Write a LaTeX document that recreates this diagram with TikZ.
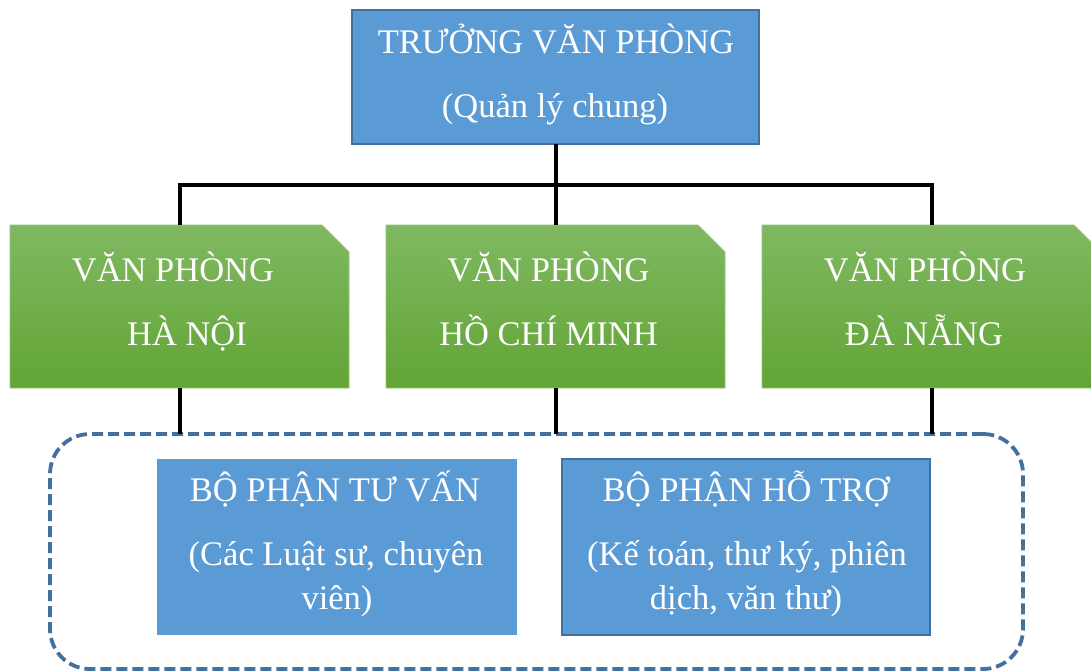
\documentclass[tikz,border=0pt]{standalone}
\usepackage{fontspec}
\setmainfont{Liberation Serif}
\definecolor{bfill}{HTML}{5B9BD5}
\definecolor{bline}{HTML}{41719C}
\definecolor{gtop}{HTML}{80B862}
\definecolor{gbot}{HTML}{62A535}
\definecolor{gedge}{HTML}{94C978}
\begin{document}
\begin{tikzpicture}[x=1pt,y=-1pt,
  frame/.style={rectangle, inner sep=0pt, outer sep=0pt},
  bluebox/.style={frame, fill=bfill, draw=bline, line width=1.5pt},
  greenarea/.style={frame},
  greenfill/.style={top color=gtop, bottom color=gbot, draw=gedge, line width=0.8pt},
  groupbox/.style={frame, draw=bline, line width=3.8pt, dash pattern=on 11pt off 5pt, rounded corners=40pt},
  conn/.style={draw=black, line width=4pt},
  lbl/.style={anchor=base, text=white, inner sep=0pt, font=\fontsize{34.5}{40}\selectfont}]
\clip (0,0) rectangle (1091,671);
\fill[white] (0,0) rectangle (1091,671);

% top box
\node[bluebox, minimum width=407pt, minimum height=134pt] (top) at (555.5,77) {};
\node[lbl] (topA) at (556,54) {TRƯỞNG VĂN PHÒNG};
\node[lbl] (topB) at (555,118) {(Quản lý chung)};

% green offices
\node[greenarea, minimum width=339pt, minimum height=163pt] (g1) at (179.5,306.5) {};
\node[greenarea, minimum width=339pt, minimum height=163pt] (g2) at (555.5,306.5) {};
\node[greenarea, minimum width=339pt, minimum height=163pt] (g3) at (931.5,306.5) {};
\path[greenfill] (g1.north west) -- ++(312,0) -- ++(27,27) -- (g1.south east) -- (g1.south west) -- cycle;
\path[greenfill] (g2.north west) -- ++(312,0) -- ++(27,27) -- (g2.south east) -- (g2.south west) -- cycle;
\path[greenfill] (g3.north west) -- ++(312,0) -- ++(27,27) -- (g3.south east) -- (g3.south west) -- cycle;

\node[lbl] (g1A) at (173,281) {VĂN PHÒNG};
\node[lbl] (g1B) at (187,345) {HÀ NỘI};
\node[lbl] (g2A) at (548.5,281) {VĂN PHÒNG};
\node[lbl] (g2B) at (548.5,345) {HỒ CHÍ MINH};
\node[lbl] (g3A) at (925,281) {VĂN PHÒNG};
\node[lbl] (g3B) at (924,345) {ĐÀ NẴNG};

% dashed group
\node[groupbox, minimum width=973pt, minimum height=235pt] (grp) at (536.5,551.5) {};

% departments
\node[frame, fill=bfill, minimum width=360pt, minimum height=176pt] (b1) at (337,547) {};
\node[bluebox, line width=1.2pt, minimum width=368pt, minimum height=176pt] (b2) at (746,547) {};
\node[lbl] (b1A) at (335,501) {BỘ PHẬN TƯ VẤN};
\node[lbl] (b1B) at (336,565) {(Các Luật sư, chuyên};
\node[lbl] (b1C) at (337,609) {viên)};
\node[lbl] (b2A) at (746,501) {BỘ PHẬN HỖ TRỢ};
\node[lbl] (b2B) at (747,565) {(Kế toán, thư ký, phiên};
\node[lbl] (b2C) at (746,609) {dịch, văn thư)};

% connectors
\coordinate (bus) at (555.5,185);
\draw[conn] (top.south) -- (g2.north);
\draw[conn] (g1.north) |- (bus);
\draw[conn] (g3.north) |- (bus);
\draw[conn] (g1.south) -- (g1.south |- grp.north);
\draw[conn] (g2.south) -- (g2.south |- grp.north);
\draw[conn] (g3.south) -- (g3.south |- grp.north);
\end{tikzpicture}
\end{document}
